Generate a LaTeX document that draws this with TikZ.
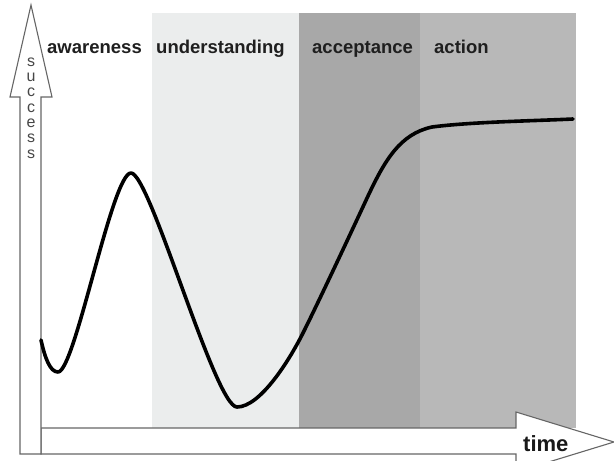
\documentclass[tikz,border=0pt]{standalone}
\usepackage{fontspec}
\setmainfont{Liberation Sans}
\begin{document}
\begin{tikzpicture}[x=1pt,y=-1pt,
  stagelabel/.style={anchor=base west,inner sep=0pt,text=black!88,
    font=\fontsize{18.5}{20}\selectfont\bfseries},
  axisarrow/.style={draw=black!60,fill=white,line width=1.1pt,line join=miter},
  curveline/.style={line width=3.6pt,black,line cap=round,line join=round}]
\useasboundingbox (0,0) rectangle (614,461);
\fill[white] (0,0) rectangle (614,461);

% stage bands
\fill[fill={rgb,255:red,235;green,237;blue,237}] (152,13) rectangle (299,428);
\fill[fill={rgb,255:red,168;green,168;blue,168}] (299,13) rectangle (420,428);
\fill[fill={rgb,255:red,184;green,184;blue,184}] (420,13) rectangle (576,428);

% time axis arrow
\coordinate (t0) at (41,428);
\coordinate (ttip) at (614,442);
\draw[axisarrow] (t0) -- (516,428) -- (516,412) -- (ttip) -- (516,472)
  -- (516,454) -- (41,454) -- cycle;

% success axis arrow
\coordinate (s0) at (20,454);
\coordinate (stip) at (31,5);
\draw[axisarrow] (s0) -- (20,97) -- (10,97) -- (stip) -- (52,97) -- (41,97)
  -- (41,454) -- cycle;

% axis labels
\node[anchor=base west,inner sep=0pt,text=black!90,
  font=\fontsize{22}{24}\selectfont\bfseries] (time) at (523,451) {time};
\node[align=center,inner sep=0pt,text=black!72,
  font=\fontsize{16}{15.3}\selectfont] (success) at (31,108)
  {s\\u\\c\\c\\e\\s\\s};

% stage labels
\node[stagelabel] (aw) at (47,53) {awareness};
\node[stagelabel] (un) at (156,53) {understanding};
\node[stagelabel] (ac) at (312,53) {acceptance};
\node[stagelabel] (act) at (434,53) {action};

% success curve
\coordinate (c0) at (41,340);
\coordinate (m1) at (58,372);
\coordinate (p1) at (131,173);
\coordinate (m2) at (237,407);
\coordinate (c1) at (303,333);
\coordinate (c2) at (368,196);
\coordinate (c3) at (432,127);
\coordinate (c4) at (573,119);
\draw[curveline] (c0) .. controls (45,358) and (50,372) .. (m1)
  .. controls (75,372) and (112,173) .. (p1)
  .. controls (150,173) and (215,407) .. (m2)
  .. controls (260,407) and (289,361) .. (c1)
  .. controls (320,299) and (355,224) .. (c2)
  .. controls (385,160) and (400,134) .. (c3)
  .. controls (470,122) and (530,121) .. (c4);
\end{tikzpicture}
\end{document}
